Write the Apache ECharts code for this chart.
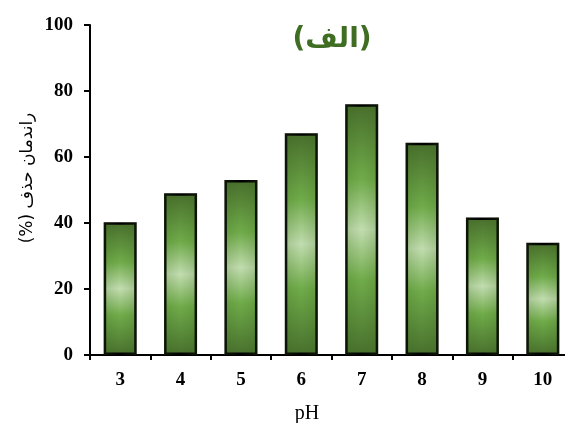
<!DOCTYPE html>
<html>
<head>
<meta charset="utf-8">
<script src="https://cdn.jsdelivr.net/npm/echarts@6/dist/echarts.min.js"></script>
<style>html,body{margin:0;padding:0;background:#fff}#c{width:565px;height:423px}</style>
</head>
<body>
<div id="c"></div>
<script>
const categories = ['3','4','5','6','7','8','9','10'];
const removal = [40.2, 49.0, 53.0, 67.2, 76.0, 64.3, 41.7, 34.0];
const yTicks = [0, 20, 40, 60, 80, 100];
const titleText = '(الف)';
const yName = 'راندمان حذف (%)';
const xName = 'pH';

const RLE = '\u202B', PDF = '\u202C';
const chart = echarts.init(document.getElementById('c'));
const serif = '"Liberation Serif","Times New Roman",serif';
chart.setOption({
  animation: false,
  title: {
    text: RLE + titleText + PDF, left: 327, top: 21, textAlign: 'center',
    textStyle: { fontFamily: '"DejaVu Sans",' + serif, fontWeight: 'bold', fontSize: 28, color: '#3f6e23' }
  },
  grid: { left: 90, top: 25, bottom: 68, width: 483, containLabel: false, outerBoundsMode: 'none' },
  xAxis: {
    type: 'category', data: categories,
    name: xName, nameLocation: 'middle', nameGap: 49,
    nameTextStyle: { fontFamily: serif, fontSize: 20, color: '#000', padding: [0, 49, 0, 0] },
    axisLine: { lineStyle: { color: '#000', width: 2 } },
    axisTick: { show: true, length: 5, lineStyle: { color: '#000', width: 2 } },
    axisLabel: { margin: 16, fontFamily: serif, fontWeight: 'bold', fontSize: 19, color: '#000' }
  },
  yAxis: {
    type: 'value', min: yTicks[0], max: yTicks[yTicks.length - 1], interval: 20,
    axisLine: { show: true, lineStyle: { color: '#000', width: 2 } },
    axisTick: { show: true, length: 6, lineStyle: { color: '#000', width: 2 } },
    splitLine: { show: false },
    axisLabel: { margin: 17, fontFamily: serif, fontWeight: 'bold', fontSize: 19, color: '#000' }
  },
  graphic: [{
    type: 'text', x: 28, y: 178, rotation: Math.PI / 2,
    style: { text: RLE + yName + PDF, fontFamily: '"DejaVu Sans",' + serif, fontSize: 17, fill: '#000', align: 'center', verticalAlign: 'middle' }
  }],
  series: [{
    type: 'bar', data: removal, barWidth: 33,
    itemStyle: {
      borderColor: '#000', borderWidth: 2.5,
      color: new echarts.graphic.LinearGradient(0, 0, 0, 1, [
        { offset: 0, color: '#486e2c' },
        { offset: 0.3, color: '#70ac4a' },
        { offset: 0.5, color: '#c2ddb0' },
        { offset: 0.7, color: '#70ac4a' },
        { offset: 1, color: '#48702d' }
      ])
    }
  }, {
    type: 'bar', data: removal, barWidth: 33, barGap: '-100%', silent: true,
    itemStyle: {
      borderWidth: 0,
      color: new echarts.graphic.LinearGradient(0, 0, 1, 0, [
        { offset: 0, color: 'rgba(60,100,30,0.22)' },
        { offset: 0.5, color: 'rgba(60,100,30,0)' },
        { offset: 1, color: 'rgba(60,100,30,0.22)' }
      ])
    }
  }]
});
</script>
</body>
</html>
